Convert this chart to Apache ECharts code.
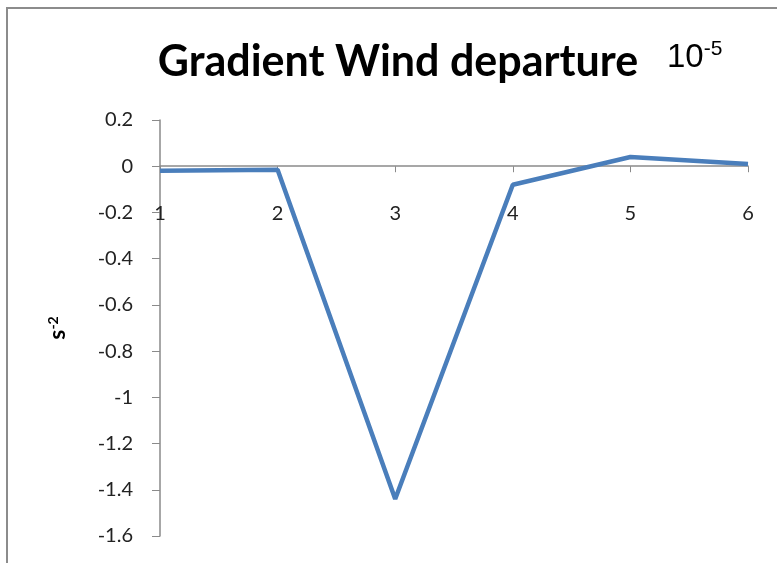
<!DOCTYPE html>
<html><head><meta charset="utf-8">
<script src="https://cdn.jsdelivr.net/npm/echarts@6/dist/echarts.min.js"></script>
<style>html,body{margin:0;padding:0;background:#fff}#c{width:777px;height:563px}</style>
</head><body><div id="c"></div>
<script>
const categories = ['1','2','3','4','5','6'];
const departure = [-0.02, -0.015, -1.44, -0.08, 0.04, 0.01];
const yTicks = { min: -1.6, max: 0.2, interval: 0.2 };

const gridTop = 120, gridBottom = 27, gridH = 563 - gridTop - gridBottom;
const zeroOffset = gridH * (yTicks.max - 0) / (yTicks.max - yTicks.min);

const chart = echarts.init(document.getElementById('c'), null, {renderer:'canvas'});
chart.setOption({
  backgroundColor: '#fff',
  animation: false,
  title: [
    { text: 'Gradient Wind departure', left: 393, top: 36, textAlign: 'center',
      textStyle: { fontFamily: 'Lato', fontWeight: 'bold', fontSize: 43, color: '#000' } },
    { text: '{a|10}{b|-5}', left: 662, top: 34,
      textStyle: { fontWeight: 'normal', rich: {
        a: { fontFamily: 'Liberation Sans', fontWeight: 'normal', fontSize: 33, color: '#000' },
        b: { fontFamily: 'Liberation Sans', fontWeight: 'normal', fontSize: 21, color: '#000', padding:[0,0,16,0] } } } }
  ],
  graphic: [
    { type: 'rect', shape: { x: 7, y: 8, width: 800, height: 600 },
      style: { fill: 'none', stroke: '#8c8c8c', lineWidth: 2 } }
  ],
  grid: { left: 160, right: 29, top: gridTop, bottom: gridBottom, containLabel: false, outerBoundsMode: 'none' },
  xAxis: {
    type: 'category', data: categories, boundaryGap: false, position: 'top', offset: -zeroOffset,
    axisLine: { onZero: false, lineStyle: { color: '#8a8a8a', width: 1.5 } },
    axisTick: { show: true, inside: true, alignWithLabel: true, length: 6, lineStyle: { color: '#8a8a8a' } },
    axisLabel: { inside: true, margin: 37, fontFamily: 'Lato', fontSize: 20, color: '#222' },
    splitLine: { show: false }
  },
  yAxis: {
    type: 'value', min: yTicks.min, max: yTicks.max, interval: yTicks.interval,
    name: '{a|s}{b|-2}', nameLocation: 'middle', nameGap: 90,
    nameTextStyle: { rich: {
      a: { fontFamily: 'Lato', fontWeight: 'bold', fontSize: 23, color: '#000' },
      b: { fontFamily: 'Lato', fontWeight: 'bold', fontSize: 14, color: '#000', padding:[0,0,10,0] } } },
    axisLine: { show: true, lineStyle: { color: '#8a8a8a', width: 1.5 } },
    axisTick: { show: true, length: 8, lineStyle: { color: '#8a8a8a' } },
    axisLabel: { margin: 27, fontFamily: 'Lato', fontSize: 20, color: '#222',
      formatter: v => String(Math.round(v*10)/10) },
    splitLine: { show: false }
  },
  series: [{
    type: 'line', data: departure, symbol: 'none',
    lineStyle: { color: '#4a7ebb', width: 4.5 }
  }]
});
</script></body></html>
